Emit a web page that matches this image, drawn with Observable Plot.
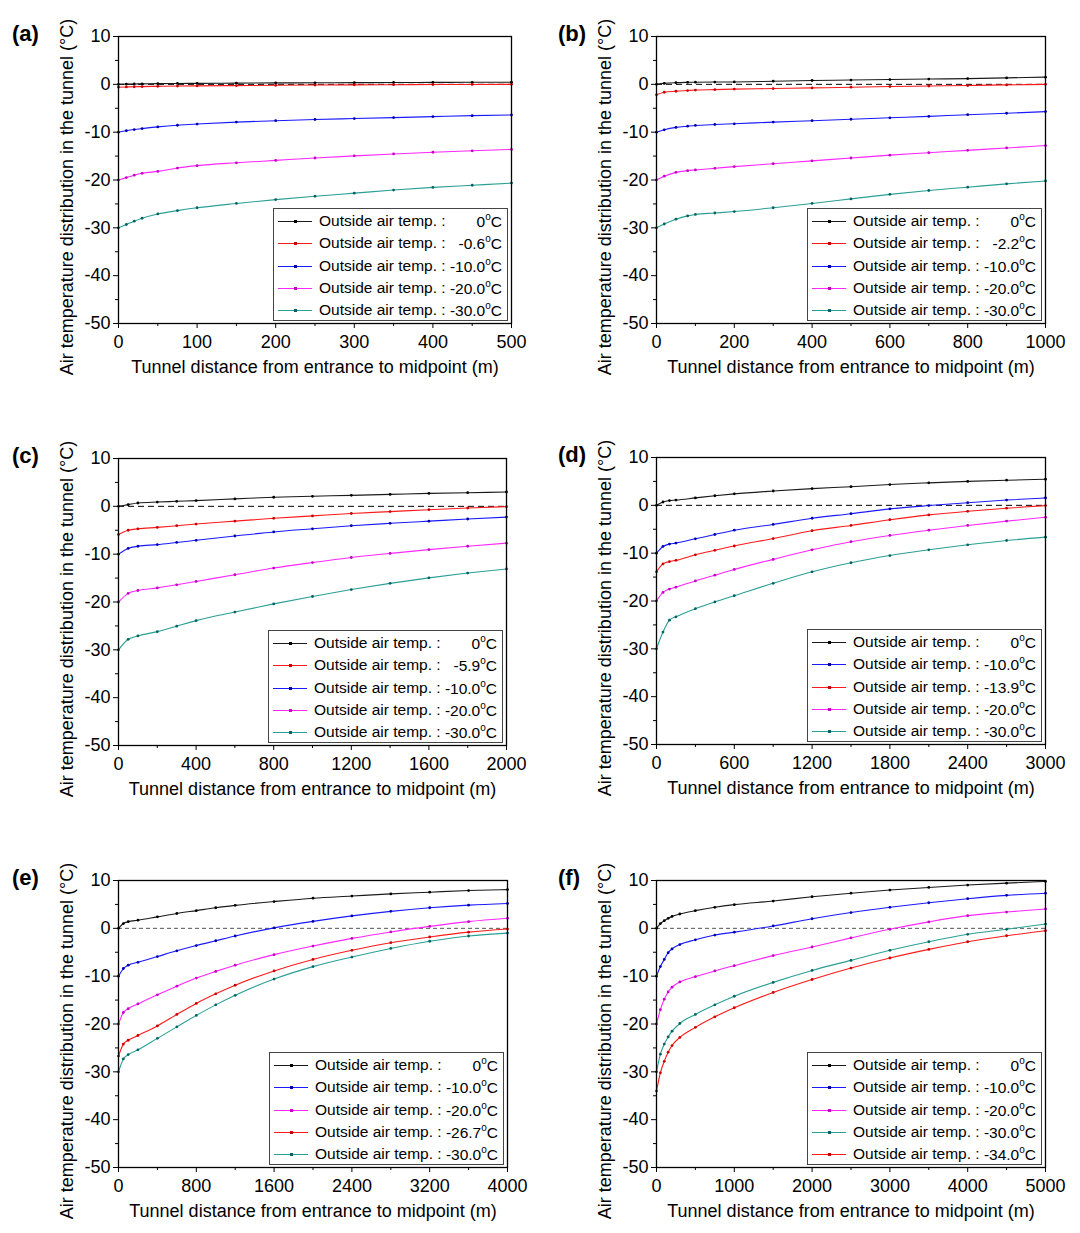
<!DOCTYPE html>
<html>
<head>
<meta charset="utf-8">
<script src="https://cdn.jsdelivr.net/npm/d3@7"></script>
<script src="https://cdn.jsdelivr.net/npm/@observablehq/plot@0.6"></script>
<style>
  html, body { margin: 0; padding: 0; background: #fff; }
  #wrap { position: relative; width: 1080px; height: 1233px; overflow: hidden; background: #fff;
          font-family: "Liberation Sans", Arial, Helvetica, sans-serif; color: #000; }
  .panel { position: absolute; }
  .tag { position: absolute; font-weight: bold; font-size: 22px; line-height: 22px; }
  .legend { position: absolute; background: #fff; border: 1px solid #444; box-sizing: border-box; font-size: 15.5px; }
  .row { position: absolute; left: 0; right: 0; height: 22px; }
  .sample { position: absolute; left: 4px; width: 34px; top: 11px; height: 1px; }
  .sdot { position: absolute; left: 16px; top: -1px; width: 3px; height: 3px; }
  .lab { position: absolute; left: 45px; top: 2px; white-space: nowrap; }
  .val { position: absolute; right: 5px; top: 2px; white-space: nowrap; }
  .val sup { font-size: 10px; position: relative; top: -1px; }
</style>
</head>
<body>
<div id="wrap"></div>
<script>
// ---------------- data ----------------
const yTicks = [-50, -40, -30, -20, -10, 0, 10];
const yMinor = [-45, -35, -25, -15, -5, 5];
const yLabel = "Air temperature distribution in the tunnel (°C)";
const xLabel = "Tunnel distance from entrance to midpoint (m)";
const legendText = "Outside air temp. :";

// (a) 500 m
const xA = [0, 10, 20, 30, 50, 75, 100, 150, 200, 250, 300, 350, 400, 450, 500];
const xTicksA = [0, 100, 200, 300, 400, 500];
const a_0   = [0, 0.05, 0.08, 0.1, 0.15, 0.18, 0.2, 0.25, 0.3, 0.32, 0.35, 0.38, 0.4, 0.42, 0.45];
const a_m06 = [-0.6, -0.55, -0.5, -0.47, -0.42, -0.36, -0.32, -0.26, -0.2, -0.15, -0.11, -0.08, -0.05, -0.02, 0];
const a_m10 = [-10, -9.7, -9.45, -9.25, -8.9, -8.55, -8.3, -7.9, -7.6, -7.35, -7.15, -6.95, -6.75, -6.55, -6.4];
const a_m20 = [-20, -19.5, -19.0, -18.6, -18.2, -17.5, -17.0, -16.4, -15.9, -15.4, -14.95, -14.55, -14.2, -13.9, -13.6];
const a_m30 = [-30, -29.3, -28.6, -28.0, -27.1, -26.4, -25.8, -24.9, -24.1, -23.4, -22.75, -22.1, -21.55, -21.1, -20.65];
const legA = ["0", "-0.6", "-10.0", "-20.0", "-30.0"];

// (b) 1000 m
const xB = [0, 20, 50, 80, 100, 150, 200, 300, 400, 500, 600, 700, 800, 900, 1000];
const xTicksB = [0, 200, 400, 600, 800, 1000];
const b_0   = [0, 0.2, 0.35, 0.42, 0.45, 0.48, 0.5, 0.65, 0.8, 0.9, 1.0, 1.1, 1.2, 1.35, 1.5];
const b_m22 = [-2.2, -1.65, -1.45, -1.3, -1.2, -1.1, -1.0, -0.88, -0.75, -0.6, -0.45, -0.35, -0.25, -0.12, 0];
const b_m10 = [-10, -9.5, -9.0, -8.75, -8.6, -8.4, -8.25, -7.9, -7.6, -7.3, -7.0, -6.7, -6.35, -6.05, -5.7];
const b_m20 = [-20, -19.2, -18.4, -18.05, -17.9, -17.55, -17.2, -16.6, -16.0, -15.4, -14.8, -14.3, -13.8, -13.3, -12.8];
const b_m30 = [-30, -29.2, -28.2, -27.5, -27.2, -26.9, -26.6, -25.8, -24.9, -23.95, -23.0, -22.2, -21.5, -20.8, -20.2];
const legB = ["0", "-2.2", "-10.0", "-20.0", "-30.0"];

// (c) 2000 m
const xC = [0, 50, 100, 200, 300, 400, 600, 800, 1000, 1200, 1400, 1600, 1800, 2000];
const xTicksC = [0, 400, 800, 1200, 1600, 2000];
const c_0   = [0, 0.35, 0.7, 0.9, 1.05, 1.2, 1.55, 1.9, 2.1, 2.3, 2.5, 2.7, 2.85, 3.0];
const c_m59 = [-5.9, -5.0, -4.7, -4.4, -4.05, -3.7, -3.1, -2.5, -2.0, -1.5, -1.1, -0.7, -0.35, -0.07];
const c_m10 = [-10, -8.8, -8.35, -8.0, -7.55, -7.1, -6.2, -5.35, -4.7, -4.05, -3.55, -3.1, -2.65, -2.25];
const c_m20 = [-20, -18.2, -17.6, -17.05, -16.4, -15.7, -14.3, -12.9, -11.75, -10.7, -9.85, -9.05, -8.35, -7.7];
const c_m30 = [-30, -27.8, -27.1, -26.2, -25.05, -23.9, -22.1, -20.4, -18.85, -17.4, -16.1, -14.95, -13.95, -13.1];
const legC = ["0", "-5.9", "-10.0", "-20.0", "-30.0"];

// (d) 3000 m
const xD = [0, 50, 100, 150, 300, 450, 600, 900, 1200, 1500, 1800, 2100, 2400, 2700, 3000];
const xTicksD = [0, 600, 1200, 1800, 2400, 3000];
const d_0    = [0, 0.7, 1.0, 1.1, 1.55, 2.0, 2.4, 3.0, 3.5, 3.9, 4.35, 4.7, 5.0, 5.25, 5.45];
const d_m10  = [-10, -8.6, -8.1, -7.9, -7.0, -6.1, -5.2, -4.0, -2.7, -1.75, -0.75, -0.05, 0.55, 1.1, 1.55];
const d_m139 = [-13.9, -12.25, -11.75, -11.5, -10.35, -9.4, -8.5, -6.95, -5.3, -4.2, -3.0, -2.0, -1.25, -0.6, -0.05];
const d_m20  = [-20, -18.2, -17.5, -17.1, -15.8, -14.6, -13.4, -11.3, -9.3, -7.6, -6.3, -5.2, -4.2, -3.3, -2.5];
const d_m30  = [-30, -26.5, -24.0, -23.3, -21.6, -20.2, -18.9, -16.3, -13.9, -12.0, -10.5, -9.3, -8.25, -7.35, -6.65];
const legD = ["0", "-10.0", "-13.9", "-20.0", "-30.0"];

// (e) 4000 m
const xE = [0, 50, 100, 200, 400, 600, 800, 1000, 1200, 1600, 2000, 2400, 2800, 3200, 3600, 4000];
const xTicksE = [0, 800, 1600, 2400, 3200, 4000];
const e_0    = [0, 1.0, 1.4, 1.7, 2.4, 3.1, 3.7, 4.3, 4.8, 5.6, 6.3, 6.75, 7.2, 7.55, 7.9, 8.1];
const e_m10  = [-10, -8.4, -7.7, -7.1, -5.9, -4.7, -3.6, -2.6, -1.6, 0.1, 1.45, 2.6, 3.55, 4.3, 4.85, 5.2];
const e_m20  = [-20, -17.6, -16.8, -15.8, -13.9, -12.1, -10.4, -9.0, -7.7, -5.5, -3.7, -2.1, -0.75, 0.4, 1.4, 2.1];
const e_m267 = [-26.7, -24.2, -23.4, -22.4, -20.4, -18.0, -15.7, -13.7, -11.9, -8.9, -6.5, -4.6, -3.0, -1.8, -0.8, -0.15];
const e_m30  = [-30, -27.3, -26.4, -25.4, -23.0, -20.6, -18.2, -16.0, -14.0, -10.6, -8.0, -6.0, -4.2, -2.7, -1.6, -1.0];
const legE = ["0", "-10.0", "-20.0", "-26.7", "-30.0"];

// (f) 5000 m
const xF = [0, 50, 100, 150, 200, 300, 500, 750, 1000, 1500, 2000, 2500, 3000, 3500, 4000, 4500, 5000];
const xTicksF = [0, 1000, 2000, 3000, 4000, 5000];
const f_0   = [0, 1.0, 1.6, 2.1, 2.5, 3.0, 3.7, 4.4, 4.95, 5.7, 6.6, 7.35, 8.0, 8.55, 9.05, 9.45, 9.8];
const f_m10 = [-10, -8.0, -6.5, -5.1, -4.3, -3.4, -2.4, -1.4, -0.8, 0.5, 2.0, 3.3, 4.4, 5.35, 6.2, 6.9, 7.35];
const f_m20 = [-20, -17.0, -14.8, -13.3, -12.3, -11.2, -10.1, -8.9, -7.8, -5.7, -3.9, -2.0, -0.2, 1.35, 2.65, 3.4, 4.05];
const f_m30 = [-30, -26.3, -24.2, -22.7, -21.5, -19.9, -18.0, -16.0, -14.2, -11.3, -8.8, -6.7, -4.6, -2.8, -1.25, -0.2, 0.9];
const f_m34 = [-34, -30.2, -27.8, -25.9, -24.5, -22.8, -20.7, -18.5, -16.6, -13.4, -10.7, -8.3, -6.2, -4.4, -2.8, -1.55, -0.5];
const legF = ["0", "-10.0", "-20.0", "-30.0", "-34.0"];

// ---------------- styling ----------------
const FONT = '"Liberation Sans", Arial, Helvetica, sans-serif';
const lineCol = {black: "#1a1a1a", red: "#ff1a1a", blue: "#1a1aff", magenta: "#ff26ff", teal: "#2a9f96"};
const dotCol  = {black: "#000000", red: "#cc0000", blue: "#0000b0", magenta: "#c800c8", teal: "#006464"};

const panels = [
  {tag: "(a)", left: 0,   top: 0,   mL: 118, mR: 29, x: xA, xt: xTicksA, leg: legA,
   s: [[a_0, "black"], [a_m06, "red"], [a_m10, "blue"], [a_m20, "magenta"], [a_m30, "teal"]], dash: "6,4", dashCol: "#000"},
  {tag: "(b)", left: 540, top: 0,   mL: 116, mR: 35, x: xB, xt: xTicksB, leg: legB,
   s: [[b_0, "black"], [b_m22, "red"], [b_m10, "blue"], [b_m20, "magenta"], [b_m30, "teal"]], dash: "6,4", dashCol: "#000"},
  {tag: "(c)", left: 0,   top: 422, mL: 118, mR: 34, x: xC, xt: xTicksC, leg: legC,
   s: [[c_0, "black"], [c_m59, "red"], [c_m10, "blue"], [c_m20, "magenta"], [c_m30, "teal"]], dash: "6,4", dashCol: "#000"},
  {tag: "(d)", left: 540, top: 421, mL: 116, mR: 35, x: xD, xt: xTicksD, leg: legD,
   s: [[d_0, "black"], [d_m10, "blue"], [d_m139, "red"], [d_m20, "magenta"], [d_m30, "teal"]], dash: "6,4", dashCol: "#000"},
  {tag: "(e)", left: 0,   top: 844, mL: 118, mR: 33, x: xE, xt: xTicksE, leg: legE,
   s: [[e_0, "black"], [e_m10, "blue"], [e_m20, "magenta"], [e_m267, "red"], [e_m30, "teal"]], dash: "4,3", dashCol: "#555"},
  {tag: "(f)", left: 540, top: 844, mL: 116, mR: 35, x: xF, xt: xTicksF, leg: legF,
   s: [[f_0, "black"], [f_m10, "blue"], [f_m20, "magenta"], [f_m30, "teal"], [f_m34, "red"]], dash: "4,3", dashCol: "#555"}
];

const W = 540, H = 390, MT = 36, MB = 67;
const wrap = document.getElementById("wrap");

for (const p of panels) {
  const xMax = p.xt[p.xt.length - 1];
  const step = p.xt[1] - p.xt[0];
  const xMinor = p.xt.slice(0, -1).map(t => t + step / 2);
  const marks = [
    Plot.ruleY([0], {stroke: p.dashCol, strokeDasharray: p.dash, strokeWidth: 1})
  ];
  for (const [vals, col] of p.s) {
    const rows = p.x.map((xv, i) => ({x: xv, y: vals[i]}));
    marks.push(Plot.line(rows, {x: "x", y: "y", stroke: lineCol[col], strokeWidth: 1.1, curve: "monotone-x"}));
    marks.push(Plot.dot(rows, {x: "x", y: "y", fill: dotCol[col], r: 1.4, stroke: "none"}));
  }
  marks.push(
    Plot.axisX({ticks: p.xt, tickSize: 5, tickPadding: 7, tickFormat: d => String(d), label: null, fontSize: 18}),
    Plot.axisX({ticks: xMinor, tickSize: 3, tickFormat: () => "", label: null}),
    Plot.axisY({ticks: yTicks, tickSize: 5, tickPadding: 3, tickFormat: d => String(d), label: null, fontSize: 18}),
    Plot.axisY({ticks: yMinor, tickSize: 3, tickFormat: () => "", label: null}),
    Plot.text([yLabel], {text: d => d, frameAnchor: "left", rotate: -90, dx: -51, dy: 17,
      textAnchor: "middle", lineAnchor: "middle", fontSize: 18}),
    Plot.text([xLabel], {text: d => d, frameAnchor: "bottom", dy: 44,
      textAnchor: "middle", lineAnchor: "middle", fontSize: 18}),
    Plot.frame({stroke: "#000", strokeWidth: 1.3})
  );
  const svg = Plot.plot({
    width: W, height: H, marginLeft: p.mL, marginRight: p.mR, marginTop: MT, marginBottom: MB,
    x: {domain: [0, xMax]},
    y: {domain: [-50, 10]},
    style: {fontFamily: FONT, fontSize: "18px", color: "#000", background: "transparent", overflow: "visible"},
    marks
  });
  const holder = document.createElement("div");
  holder.className = "panel";
  holder.style.left = p.left + "px";
  holder.style.top = p.top + "px";
  holder.appendChild(svg);
  wrap.appendChild(holder);

  // panel tag
  const tag = document.createElement("div");
  tag.className = "tag";
  tag.textContent = p.tag;
  tag.style.left = (p.left + (p.left ? 18 : 12)) + "px";
  tag.style.top = (p.top + 23) + "px";
  wrap.appendChild(tag);

  // legend
  const LW = 235, LH = 113;
  const frameRight = p.left + W - p.mR;
  const frameBottom = p.top + H - MB;
  const lg = document.createElement("div");
  lg.className = "legend";
  lg.style.width = LW + "px";
  lg.style.height = LH + "px";
  lg.style.left = (frameRight - 3 - LW) + "px";
  lg.style.top = (frameBottom - 2 - LH) + "px";
  p.s.forEach(([vals, col], i) => {
    const row = document.createElement("div");
    row.className = "row";
    row.style.top = Math.round(1 + i * 22.3) + "px";
    row.innerHTML =
      `<div class="sample" style="background:${lineCol[col]}"><div class="sdot" style="background:${dotCol[col]}"></div></div>` +
      `<span class="lab">${legendText}</span>` +
      `<span class="val">${p.leg[i]}<sup>o</sup>C</span>`;
    lg.appendChild(row);
  });
  wrap.appendChild(lg);
}
</script>
</body>
</html>
